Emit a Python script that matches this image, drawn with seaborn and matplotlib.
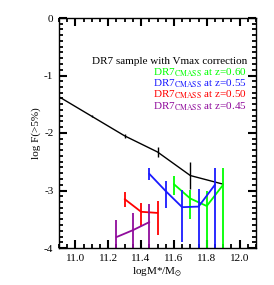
import numpy as np
import pandas as pd
import matplotlib
matplotlib.use("Agg")
import matplotlib.pyplot as plt
import seaborn as sns
from matplotlib.ticker import MultipleLocator

# ---- data ----
dr7_x = [10.9, 11.1, 11.3, 11.5, 11.7, 11.9]
dr7_y = [-1.37, -1.71, -2.05, -2.33, -2.74, -2.89]
dr7_err = [0.0, 0.02, 0.03, 0.09, 0.24, 0.0]

z60_x = [11.6, 11.7, 11.8, 11.9]
z60_y = [-2.89, -3.14, -3.27, -2.90]
z60_up = [0.15, 0.15, 0.27, 0.29]
z60_lo = [0.19, 0.36, 1.0, 1.5]

z55_x = [11.45, 11.55, 11.65, 11.75, 11.85]
z55_y = [-2.71, -3.01, -3.29, -3.28, -2.90]
z55_up = [0.10, 0.17, 0.30, 0.30, 0.30]
z55_lo = [0.10, 0.29, 0.61, 1.0, 1.5]

z50_x = [11.3, 11.4, 11.5]
z50_y = [-3.15, -3.37, -3.39]
z50_up = [0.12, 0.16, 0.20]
z50_lo = [0.14, 0.24, 0.38]

z45_x = [11.25, 11.35, 11.45]
z45_y = [-3.81, -3.69, -3.55]
z45_up = [0.29, 0.30, 0.31]
z45_lo = [1.0, 1.0, 1.0]

xtick_vals = [11.0, 11.2, 11.4, 11.6, 11.8, 12.0]
xtick_labels = ["11.0", "11.2", "11.4", "11.6", "11.8", "12.0"]
ytick_vals = [0, -1, -2, -3, -4]
ytick_labels = ["0", "-1", "-2", "-3", "-4"]

labels = ["DR7$_{\\mathrm{CMASS}}$ at z=0.60", "DR7$_{\\mathrm{CMASS}}$ at z=0.55",
          "DR7$_{\\mathrm{CMASS}}$ at z=0.50", "DR7$_{\\mathrm{CMASS}}$ at z=0.45"]
colors = ["#00ff00", "#1a1aff", "#ff0000", "#900c9c"]

sns.set_style("ticks")
plt.rcParams['font.family'] = ['Liberation Serif', 'DejaVu Serif']
plt.rcParams['mathtext.fontset'] = 'stix'
plt.rcParams['axes.unicode_minus'] = False

fig = plt.figure(figsize=(2.74, 2.85), dpi=100)
ax = fig.add_axes([59/274, 1-248/285, 197/274, 230/285])

def draw(x, y, lo, up, color, lw):
    df = pd.DataFrame({"x": x, "y": y})
    sns.lineplot(data=df, x="x", y="y", color=color, lw=lw, ax=ax,
                 sort=False, estimator=None, legend=False)
    ax.errorbar(x, y, yerr=[lo, up], fmt='none', ecolor=color, elinewidth=lw,
                capsize=0)

draw(dr7_x, dr7_y, dr7_err, dr7_err, "black", 1.0)
draw(z60_x, z60_y, z60_lo, z60_up, colors[0], 1.3)
draw(z55_x, z55_y, z55_lo, z55_up, colors[1], 1.3)
draw(z50_x, z50_y, z50_lo, z50_up, colors[2], 1.3)
draw(z45_x, z45_y, z45_lo, z45_up, colors[3], 1.3)

ax.set_xlim(10.9, 12.1)
ax.set_ylim(-4.0, 0.0)
ax.set_xticks(xtick_vals)
ax.set_xticklabels(xtick_labels)
ax.set_yticks(ytick_vals)
ax.set_yticklabels(ytick_labels)
ax.xaxis.set_minor_locator(MultipleLocator(0.05))
ax.yaxis.set_minor_locator(MultipleLocator(0.1))
ax.tick_params(axis='both', which='both', direction='in', top=True, right=True,
               bottom=True, left=True, labelsize=8, pad=4,
               color='black', labelcolor='black')
ax.tick_params(axis='both', which='major', length=6, width=1.5)
ax.tick_params(axis='both', which='minor', length=3, width=1.3)
for s in ax.spines.values():
    s.set_linewidth(1.0)
    s.set_color('black')

ax.set_xlabel("logM*/M$_{\\odot}$", fontsize=8, labelpad=2, color='black')
ax.set_ylabel("log F(>5%)", fontsize=8, labelpad=2, color='black')

ax.text(0.954, 0.801, "DR7 sample with Vmax correction", transform=ax.transAxes,
        ha='right', va='baseline', fontsize=8, color='black')
ys = [0.752, 0.704, 0.653, 0.604]
for lab, c, yy in zip(labels, colors, ys):
    ax.text(0.954, yy, lab, transform=ax.transAxes, ha='right', va='baseline',
            fontsize=8, color=c)

fig.savefig("out.png", dpi=100)
